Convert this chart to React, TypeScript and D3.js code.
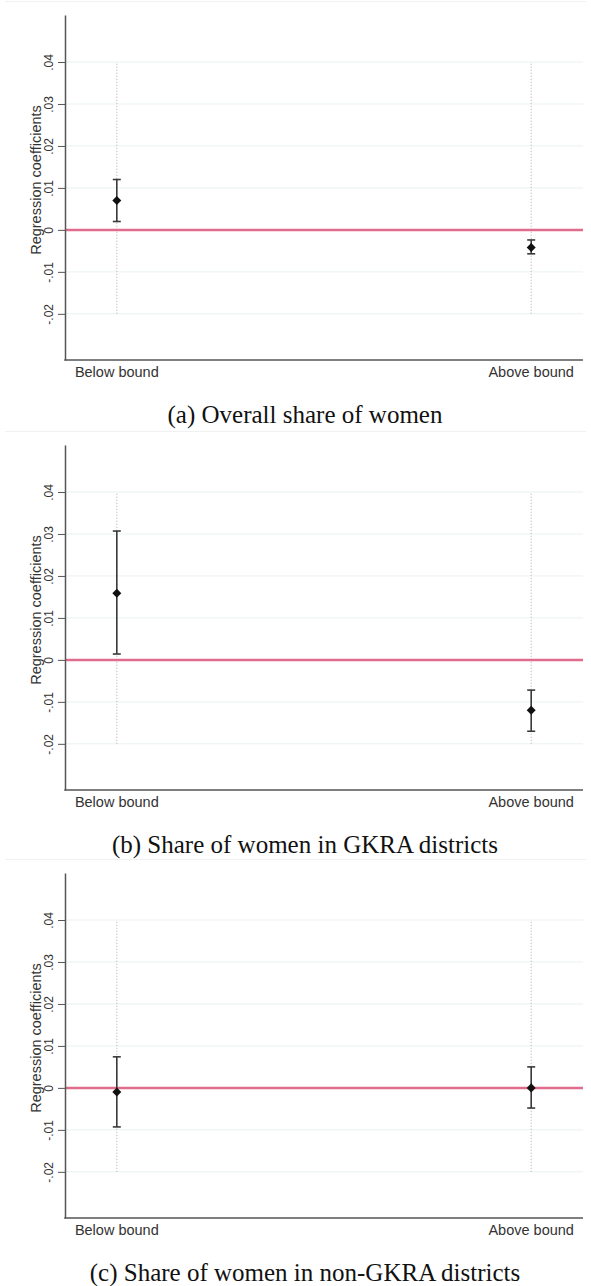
import React, { useEffect, useRef } from 'react';
import * as d3 from 'd3';

const categories = ["Below bound", "Above bound"];
const captions = [
  "(a) Overall share of women",
  "(b) Share of women in GKRA districts",
  "(c) Share of women in non-GKRA districts",
];
const panelOffsets = [0, 430, 858];

// point estimates and 95% CI bounds, one array per panel
const coefA = [0.007, -0.0042];
const lowA = [0.002, -0.0057];
const highA = [0.012, -0.0024];

const coefB = [0.0159, -0.012];
const lowB = [0.0014, -0.017];
const highB = [0.0307, -0.0072];

const coefC = [-0.001, 0.0];
const lowC = [-0.0093, -0.0048];
const highC = [0.0074, 0.005];

const yTicks = [-0.02, -0.01, 0, 0.01, 0.02, 0.03, 0.04];
const yTickLabels = ["-.02", "-.01", "0", ".01", ".02", ".03", ".04"];
const yDomain = [-0.031, 0.0512];
const guideRange = [-0.02, 0.04];

const W = 591;
const H = 1286;

export default function App() {
  const ref = useRef<SVGSVGElement | null>(null);

  useEffect(() => {
    const svg = d3.select(ref.current);
    svg.selectAll('*').remove();

    const left = 65, right = 583, top = 15, bottom = 360;

    const x = d3.scalePoint<string>()
      .domain(categories)
      .range([left, right])
      .padding(0.125);

    const y = d3.scaleLinear()
      .domain(yDomain)
      .range([bottom, top]);

    const panels = [
      { coef: coefA, low: lowA, high: highA },
      { coef: coefB, low: lowB, high: highB },
      { coef: coefC, low: lowC, high: highC },
    ];

    panels.forEach((p, i) => {
      const g = svg.append('g').attr('transform', `translate(0,${panelOffsets[i]})`);

      // faint frame line of the original figure image
      g.append('line')
        .attr('x1', 5).attr('x2', W - 5)
        .attr('y1', 1.5).attr('y2', 1.5)
        .attr('stroke', '#f1f1f1');

      // gridlines
      g.selectAll('.grid')
        .data(yTicks.filter(t => t !== 0))
        .join('line')
        .attr('x1', left).attr('x2', right)
        .attr('y1', d => y(d)).attr('y2', d => y(d))
        .attr('stroke', '#e9f1f1')
        .attr('stroke-width', 1);

      // dotted guide lines at each category
      g.selectAll('.guide')
        .data(categories)
        .join('line')
        .attr('x1', d => x(d)!).attr('x2', d => x(d)!)
        .attr('y1', y(guideRange[0])).attr('y2', y(guideRange[1]))
        .attr('stroke', '#b8b8b8')
        .attr('stroke-width', 1.2)
        .attr('stroke-dasharray', '1,2');

      // zero line
      g.append('line')
        .attr('x1', left).attr('x2', right)
        .attr('y1', y(0)).attr('y2', y(0))
        .attr('stroke', '#df6c8d')
        .attr('stroke-width', 2.5);

      // y axis
      const yAxis = g.append('g')
        .attr('transform', `translate(${left},0)`)
        .call(d3.axisLeft(y).tickValues(yTicks).tickSize(7).tickSizeOuter(0)
          .tickFormat((d, k) => yTickLabels[k]));
      yAxis.select('.domain').attr('stroke', '#555').attr('stroke-width', 1.5);
      yAxis.selectAll('.tick line').attr('stroke', '#555');
      yAxis.selectAll('.tick text')
        .attr('transform', 'rotate(-90)')
        .attr('x', 0)
        .attr('y', -12)
        .attr('dy', 0)
        .attr('text-anchor', 'middle')
        .attr('fill', '#333')
        .attr('font-size', 12)
        .attr('font-family', 'Liberation Sans, Arial, sans-serif');

      // x axis line
      g.append('line')
        .attr('x1', left - 0.75).attr('x2', right)
        .attr('y1', bottom).attr('y2', bottom)
        .attr('stroke', '#555')
        .attr('stroke-width', 1.5);

      g.selectAll('.xlab')
        .data(categories)
        .join('text')
        .attr('x', d => x(d)!)
        .attr('y', bottom + 17)
        .attr('text-anchor', 'middle')
        .attr('fill', '#333')
        .attr('font-size', 14.5)
        .attr('font-family', 'Liberation Sans, Arial, sans-serif')
        .text(d => d);

      // y title
      g.append('text')
        .attr('transform', `translate(41,180) rotate(-90)`)
        .attr('text-anchor', 'middle')
        .attr('fill', '#333')
        .attr('font-size', 14.5)
        .attr('font-family', 'Liberation Sans, Arial, sans-serif')
        .text('Regression coefficients');

      // error bars
      const bars = g.selectAll('.bar')
        .data(categories)
        .join('g')
        .attr('transform', d => `translate(${x(d)},0)`);
      bars.append('line')
        .attr('y1', (d, k) => y(p.low[k])).attr('y2', (d, k) => y(p.high[k]))
        .attr('stroke', '#3a3a3a').attr('stroke-width', 1.6);
      bars.append('line')
        .attr('x1', -4).attr('x2', 4)
        .attr('y1', (d, k) => y(p.low[k])).attr('y2', (d, k) => y(p.low[k]))
        .attr('stroke', '#3a3a3a').attr('stroke-width', 1.6);
      bars.append('line')
        .attr('x1', -4).attr('x2', 4)
        .attr('y1', (d, k) => y(p.high[k])).attr('y2', (d, k) => y(p.high[k]))
        .attr('stroke', '#3a3a3a').attr('stroke-width', 1.6);
      bars.append('path')
        .attr('d', d3.symbol(d3.symbolDiamond2, 52)())
        .attr('transform', (d, k) => `translate(0,${y(p.coef[k])})`)
        .attr('fill', '#111');

      // caption
      g.append('text')
        .attr('x', 305)
        .attr('y', 423)
        .attr('text-anchor', 'middle')
        .attr('fill', '#111')
        .attr('font-size', 25)
        .attr('font-family', 'Liberation Serif, Times New Roman, serif')
        .text(captions[i]);
    });
  }, []);

  return (
    <svg ref={ref} width={W} height={H}
      style={{ position: 'absolute', left: 0, top: 0, background: '#fff' }} />
  );
}
